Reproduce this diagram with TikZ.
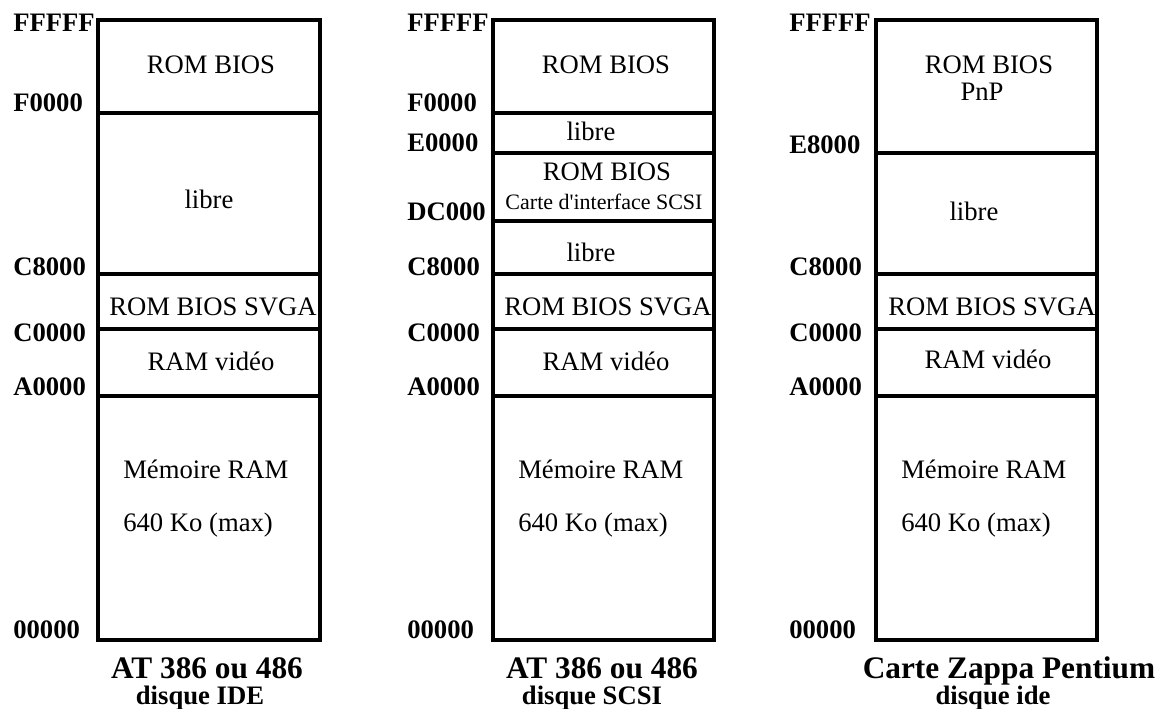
\documentclass[tikz,border=0pt]{standalone}
\usepackage{fontspec}
\setmainfont{Liberation Serif}
\begin{document}
\begin{tikzpicture}[x=0.75pt,y=-0.75pt,
  frame/.style={line width=2.6pt, line cap=rect, line join=miter},
  sep/.style={line width=2.6pt},
  txt/.style={inner sep=0pt, font=\fontsize{20}{24}\selectfont, text height=13.2pt, text depth=0pt, anchor=center},
  small/.style={inner sep=0pt, font=\fontsize{16.5}{20}\selectfont, text height=10.9pt, text depth=0pt, anchor=center},
  addr/.style={inner sep=0pt, font=\fontsize{20}{24}\selectfont\bfseries, text height=13.2pt, text depth=0pt, anchor=west},
  title/.style={inner sep=0pt, font=\fontsize{23.5}{28}\selectfont\bfseries, text height=15.6pt, text depth=0pt, anchor=center},
  subtitle/.style={inner sep=0pt, font=\fontsize{20}{24}\selectfont\bfseries, text height=13.2pt, text depth=0pt, anchor=center},
  memtxt/.style={inner sep=0pt, font=\fontsize{20}{24}\selectfont, text height=13.2pt, text depth=0pt, anchor=west}]
\useasboundingbox (0,0) rectangle (1165,709);

% ---------- Column 1 ----------
\draw[frame] (98,20) rectangle (320,640);
\draw[sep] (98,113) -- (320,113);
\draw[sep] (98,274) -- (320,274);
\draw[sep] (98,329) -- (320,329);
\draw[sep] (98,396) -- (320,396);
\node[addr] (a1f) at (13,23) {FFFFF};
\node[addr] (a1e) at (13,103) {F0000};
\node[addr] (a1c8) at (13,267) {C8000};
\node[addr] (a1c0) at (13,333) {C0000};
\node[addr] (a1a) at (13,387) {A0000};
\node[addr] (a10) at (13,630) {00000};
\node[txt] (r1) at (211,65) {ROM BIOS};
\node[txt] (l1) at (209,200) {libre};
\node[txt] (s1) at (213,307) {ROM BIOS SVGA};
\node[txt] (v1) at (211,362) {RAM vidéo};
\node[memtxt] (m1) at (123,470) {Mémoire RAM};
\node[memtxt] (k1) at (123,523) {640 Ko (max)};
\node[title] (t1) at (207,668) {AT 386 ou 486};
\node[subtitle] (d1) at (200,696) {disque IDE};

% ---------- Column 2 ----------
\draw[frame] (493,20) rectangle (714,640);
\draw[sep] (493,113) -- (714,113);
\draw[sep] (493,153) -- (714,153);
\draw[sep] (493,221) -- (714,221);
\draw[sep] (493,274) -- (714,274);
\draw[sep] (493,329) -- (714,329);
\draw[sep] (493,396) -- (714,396);
\node[addr] (a2f) at (407,23) {FFFFF};
\node[addr] (a2e) at (407,103) {F0000};
\node[addr] (a2e0) at (407,143) {E0000};
\node[addr] (a2dc) at (407,212) {DC000};
\node[addr] (a2c8) at (407,267) {C8000};
\node[addr] (a2c0) at (407,333) {C0000};
\node[addr] (a2a) at (407,387) {A0000};
\node[addr] (a20) at (407,630) {00000};
\node[txt] (r2) at (606,65) {ROM BIOS};
\node[txt] (l2a) at (591,132) {libre};
\node[txt] (r2b) at (607,172) {ROM BIOS};
\node[small] (c2) at (604,202) {Carte d\textquotesingle interface SCSI};
\node[txt] (l2b) at (591,253) {libre};
\node[txt] (s2) at (608,307) {ROM BIOS SVGA};
\node[txt] (v2) at (606,362) {RAM vidéo};
\node[memtxt] (m2) at (518,470) {Mémoire RAM};
\node[memtxt] (k2) at (518,523) {640 Ko (max)};
\node[title] (t2) at (602,668) {AT 386 ou 486};
\node[subtitle] (d2) at (592,696) {disque SCSI};

% ---------- Column 3 ----------
\draw[frame] (876,20) rectangle (1097,640);
\draw[sep] (876,153) -- (1097,153);
\draw[sep] (876,274) -- (1097,274);
\draw[sep] (876,329) -- (1097,329);
\draw[sep] (876,396) -- (1097,396);
\node[addr] (a3f) at (789,23) {FFFFF};
\node[addr] (a3e8) at (789,145) {E8000};
\node[addr] (a3c8) at (789,267) {C8000};
\node[addr] (a3c0) at (789,333) {C0000};
\node[addr] (a3a) at (789,387) {A0000};
\node[addr] (a30) at (789,630) {00000};
\node[txt] (r3) at (989,65) {ROM BIOS};
\node[txt] (p3) at (982,92) {PnP};
\node[txt] (l3) at (974,212) {libre};
\node[txt] (s3) at (992,307) {ROM BIOS SVGA};
\node[txt] (v3) at (988,360) {RAM vidéo};
\node[memtxt] (m3) at (901,470) {Mémoire RAM};
\node[memtxt] (k3) at (901,523) {640 Ko (max)};
\node[title] (t3) at (1009,668) {Carte Zappa Pentium};
\node[subtitle] (d3) at (993,696) {disque ide};
\end{tikzpicture}
\end{document}
